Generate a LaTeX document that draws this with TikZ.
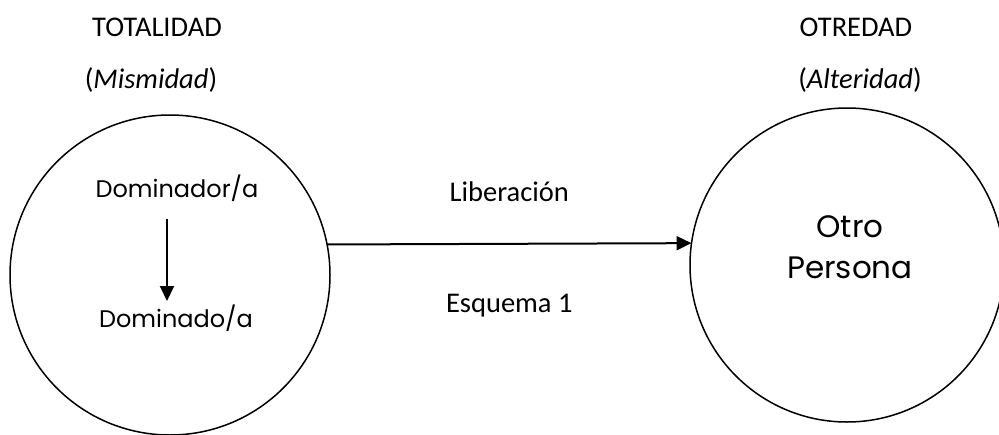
\documentclass[tikz,border=0pt]{standalone}
\usepackage{fontspec}
\usepackage{tikz}
\usetikzlibrary{arrows.meta}
\setmainfont{Carlito}
\newfontfamily\circfont{Poppins}
\tikzstyle{titulo} = [font=\fontsize{28.5}{34}\selectfont, inner sep=0pt, anchor=base]
\tikzstyle{mundo} = [circle, draw, line width=1.5pt, outer sep=0pt, inner sep=0pt]
\tikzstyle{dentro} = [font=\circfont\fontsize{24}{30}\selectfont, inner sep=0pt, anchor=base]
\tikzstyle{grande} = [font=\circfont\fontsize{31}{40}\selectfont, inner sep=0pt, anchor=base]
\tikzstyle{flecha} = [line width=2pt, -{Triangle[length=15pt, width=14pt]}]

\begin{document}
\begin{tikzpicture}[x=1pt, y=-1pt]
    \clip (0,0) rectangle (999,434);
    \useasboundingbox (0,0) rectangle (999,434);
    % headings
    \node[titulo] (totalidad) at (157,36) {TOTALIDAD};
    \node[titulo] (mismidad) at (151,88) {(\textit{Mismidad})};
    \node[titulo] (otredadtit) at (856,36) {OTREDAD};
    \node[titulo] (alteridad) at (860,88) {(\textit{Alteridad})};
    % circles
    \node[mundo, minimum size=320pt] (izq) at (170,275) {};
    \node[mundo, minimum size=314pt] (der) at (847,265) {};
    % inside the left circle
    \node[dentro] (dominador) at (177,197) {Dominador/a};
    \node[dentro] (dominado) at (176,327) {Dominado/a};
    \coordinate (dtop) at (167,219);
    \coordinate (dbot) at (167,301);
    \draw[flecha] (dtop) -- (dbot);
    % inside the right circle
    \node[grande] (otro) at (850,237) {Otro};
    \node[grande] (persona) at (850,278) {Persona};
    % link
    \draw[flecha] (izq.11.2) -- (der.172.3)
        node[titulo, midway, yshift=42pt] (liberacion) {Liberación}
        node[titulo, midway, yshift=-69pt] (esquema) {Esquema 1};
\end{tikzpicture}
\end{document}
